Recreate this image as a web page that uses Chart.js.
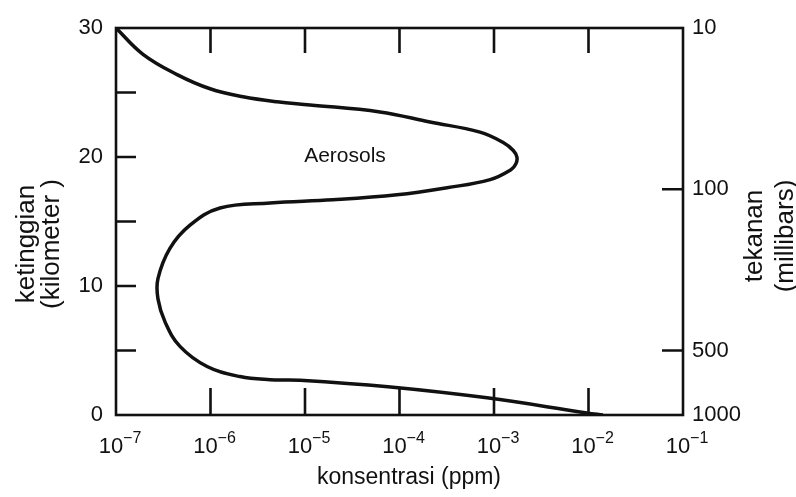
<!DOCTYPE html>
<html>
<head>
<meta charset="utf-8">
<script src="https://cdn.jsdelivr.net/npm/chart.js@4.4.1/dist/chart.umd.min.js"></script>
<style>
  html, body { margin: 0; padding: 0; background: #fff; }
  #wrap { width: 796px; height: 497px; }
</style>
</head>
<body>
<div id="wrap"><canvas id="myChart"></canvas></div>
<script>
// aerosol profile (altitude in km, concentration in ppm)
var altitude = [30, 27.96, 26.39, 25.29, 24.67, 24.28, 24.04, 23.49, 22.71, 21.93, 21.14, 20.5, 19.97, 19.45, 19.03, 18.25, 17.62, 17.07, 16.68, 16.44, 16.05, 14.72, 12.92, 10.57, 9.0, 7.2, 5.32, 3.76, 2.98, 2.74, 2.70, 2.19, 1.33, 0.16, 0];
var concentration = [1.0e-7, 1.93e-7, 4.43e-7, 9.9e-7, 2.21e-6, 5.06e-6, 1.13e-5, 6.2e-5, 2.1e-4, 7.1e-4, 1.24e-3, 1.6e-3, 1.75e-3, 1.7e-3, 1.52e-3, 9.1e-4, 3.18e-4, 9.4e-5, 1.98e-5, 4.27e-6, 1.26e-6, 6.07e-7, 3.72e-7, 2.78e-7, 2.78e-7, 3.31e-7, 4.75e-7, 9.2e-7, 2.05e-6, 4.27e-6, 8.85e-6, 7.55e-5, 8.43e-4, 9.6e-3, 1.42e-2];

var xTickValues = [1e-7, 1e-6, 1e-5, 1e-4, 1e-3, 1e-2, 1e-1];
var xTickExps = ['\u22127', '\u22126', '\u22125', '\u22124', '\u22123', '\u22122', '\u22121'];
var altTicks = [0, 5, 10, 15, 20, 25, 30];
var pressureLabels = ['1000', '500', '100', '10'];
var pressureAlt = [0, 5, 17.5, 30];

var FONT = "'Liberation Sans', Arial, sans-serif";
var INK = '#111';

var frameAndTicks = {
  id: 'frameAndTicks',
  afterDraw: function(chart) {
    var ctx = chart.ctx, a = chart.chartArea;
    var x = chart.scales.x, y = chart.scales.y;
    ctx.save();
    ctx.strokeStyle = INK;
    ctx.lineWidth = 2.6;
    ctx.strokeRect(a.left, a.top, a.right - a.left, a.bottom - a.top);

    ctx.beginPath();
    xTickValues.slice(1, -1).forEach(function(v) {
      var px = x.getPixelForValue(v);
      ctx.moveTo(px, a.bottom); ctx.lineTo(px, a.bottom - 27);
      ctx.moveTo(px, a.top); ctx.lineTo(px, a.top + 25);
    });
    altTicks.slice(1, -1).forEach(function(v) {
      var py = y.getPixelForValue(v);
      ctx.moveTo(a.left, py); ctx.lineTo(a.left + 20, py);
    });
    pressureAlt.slice(1, -1).forEach(function(v) {
      var py = y.getPixelForValue(v);
      ctx.moveTo(a.right, py); ctx.lineTo(a.right - 21, py);
    });
    ctx.stroke();

    ctx.fillStyle = INK;

    // x tick labels: 10 with a raised exponent
    ctx.textBaseline = 'alphabetic';
    ctx.textAlign = 'left';
    xTickValues.forEach(function(v, i) {
      var px = x.getPixelForValue(v);
      ctx.font = '22px ' + FONT;
      var wb = ctx.measureText('10').width;
      ctx.font = '16px ' + FONT;
      var we = ctx.measureText(xTickExps[i]).width;
      var x0 = px + 4 - (wb + we) / 2;
      ctx.font = '22px ' + FONT;
      ctx.fillText('10', x0, a.bottom + 38);
      ctx.font = '16px ' + FONT;
      ctx.fillText(xTickExps[i], x0 + wb, a.bottom + 28);
    });

    ctx.textAlign = 'center';

    // axis title below
    ctx.font = '23px ' + FONT;
    ctx.fillText('konsentrasi (ppm)', 409, 484);

    ctx.textBaseline = 'middle';

    // label inside the loop
    ctx.font = '21px ' + FONT;
    ctx.fillText('Aerosols', x.getPixelForValue(2.65e-5), y.getPixelForValue(20.1));

    ctx.font = '26px ' + FONT;
    ctx.save();
    ctx.translate(27, 244);
    ctx.rotate(-Math.PI / 2);
    ctx.fillText('ketinggian', 0, 0);
    ctx.fillText('(kilometer )', 0, 25);
    ctx.restore();

    ctx.save();
    ctx.translate(755, 236);
    ctx.rotate(-Math.PI / 2);
    ctx.fillText('tekanan', 0, 0);
    ctx.fillText('(millibars)', 0, 31);
    ctx.restore();

    ctx.restore();
  }
};

var ctx = document.getElementById('myChart').getContext('2d');
var chart = new Chart(ctx, {
  type: 'line',
  data: {
    datasets: [{
      data: concentration.map(function(c, i) { return { x: c, y: altitude[i] }; }),
      borderColor: INK,
      borderWidth: 3.5,
      pointRadius: 0,
      fill: false,
      tension: 0.4,
      yAxisID: 'y'
    }]
  },
  options: {
    indexAxis: 'y',
    responsive: true,
    maintainAspectRatio: false,
    animation: false,
    layout: { padding: { top: 28, left: 0, right: 0, bottom: 0 } },
    plugins: { legend: { display: false }, tooltip: { enabled: false } },
    scales: {
      x: {
        type: 'logarithmic',
        min: 1e-7,
        max: 1e-1,
        grid: { display: false, drawTicks: false },
        border: { display: false },
        afterBuildTicks: function(scale) {
          scale.ticks = xTickValues.map(function(v) { return { value: v }; });
        },
        afterFit: function(scale) { scale.height = 82; },
        ticks: {
          autoSkip: false,
          maxRotation: 0,
          callback: function() { return ''; }
        }
      },
      y: {
        type: 'linear',
        position: 'left',
        min: 0,
        max: 30,
        grid: { display: false, drawTicks: false },
        border: { display: false },
        afterBuildTicks: function(scale) {
          scale.ticks = altTicks.map(function(v) { return { value: v }; });
        },
        afterFit: function(scale) { scale.width = 116; },
        ticks: {
          padding: 13,
          color: INK,
          font: { family: FONT, size: 22 },
          callback: function(v) { return v % 10 === 0 ? String(v) : ''; }
        }
      },
      y2: {
        type: 'linear',
        position: 'right',
        min: 0,
        max: 30,
        grid: { display: false, drawTicks: false },
        border: { display: false },
        afterBuildTicks: function(scale) {
          scale.ticks = pressureAlt.map(function(v) { return { value: v }; });
        },
        afterFit: function(scale) { scale.width = 113; },
        ticks: {
          padding: 9,
          color: INK,
          font: { family: FONT, size: 22 },
          callback: function(v, i) { return pressureLabels[i]; }
        }
      }
    }
  },
  plugins: [frameAndTicks]
});
</script>
</body>
</html>
